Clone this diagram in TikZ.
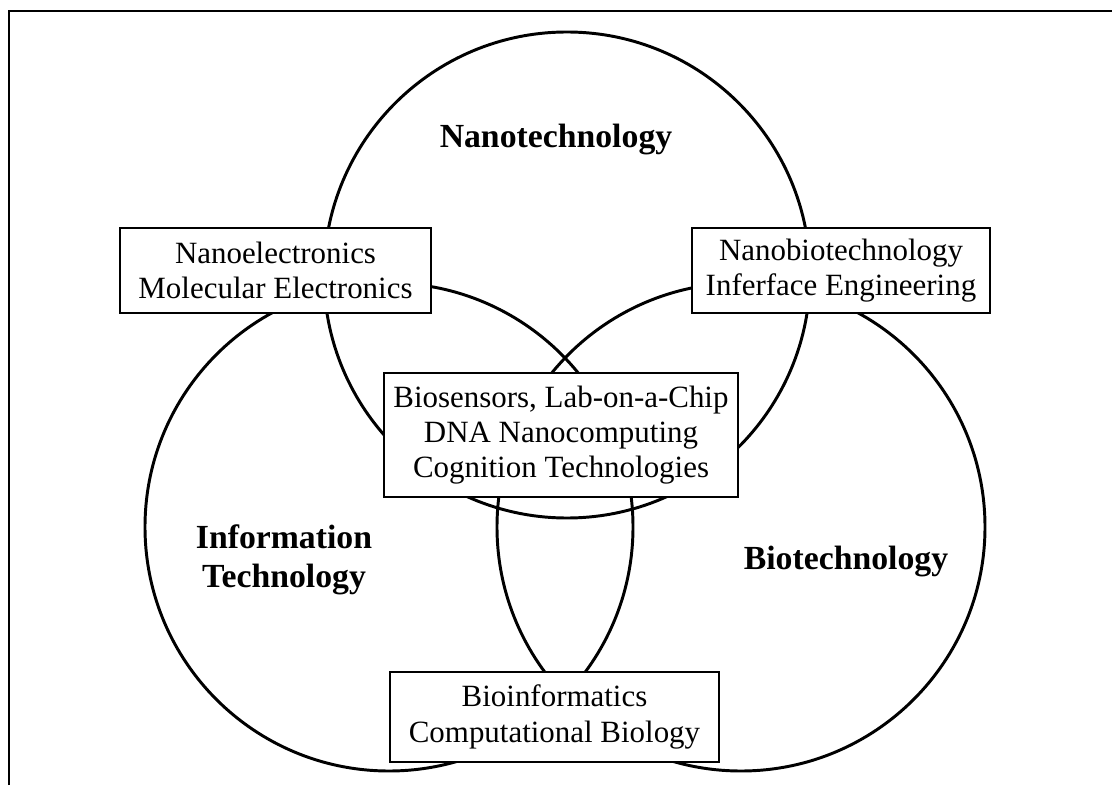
\documentclass[tikz,border=0pt]{standalone}
\usepackage{fontspec}
\setmainfont{Liberation Serif}
\begin{document}
\begin{tikzpicture}[x=0.025cm,y=0.025cm,
	overlap/.style={draw,line width=1.3pt,fill=white,align=center,inner sep=0pt,font=\fontsize{22}{25}\selectfont},
	topic/.style={align=center,font=\fontsize{24}{28}\selectfont\bfseries}]
	\useasboundingbox (0,0) rectangle (1112,785);
	\draw[line width=1.4pt] (9,0) -- (9,774) -- (1112,774);
	% the three fields
	\coordinate (nano) at (567,510);
	\coordinate (info) at (389,258);
	\coordinate (bio) at (741,258);
	\draw[line width=2.1pt] (nano) circle (243);
	\draw[line width=2.1pt] (info) circle (244);
	\draw[line width=2.1pt] (bio) circle (244);
	\node[topic] (nanolbl) at (556,645) {Nanotechnology};
	\node[topic] (infolbl) at (284,225) {Information\\Technology};
	\node[topic] (biolbl) at (846,223) {Biotechnology};
	% overlaps
	\node[overlap,minimum width=221pt,minimum height=60.5pt] (nanoinfo) at (275.5,514.5) {Nanoelectronics\\Molecular Electronics};
	\node[overlap,minimum width=212pt,minimum height=60.5pt] (nanobio) at (841,514.5) {Nanobiotechnology\\Inferface Engineering};
	\node[overlap,minimum width=252pt,minimum height=88pt] (all) at (561,350) {Biosensors, Lab-on-a-Chip\\DNA Nanocomputing\\Cognition Technologies};
	\node[overlap,minimum width=234pt,minimum height=64pt] (infobio) at (554.5,68) {Bioinformatics\\Computational Biology};
\end{tikzpicture}
\end{document}
